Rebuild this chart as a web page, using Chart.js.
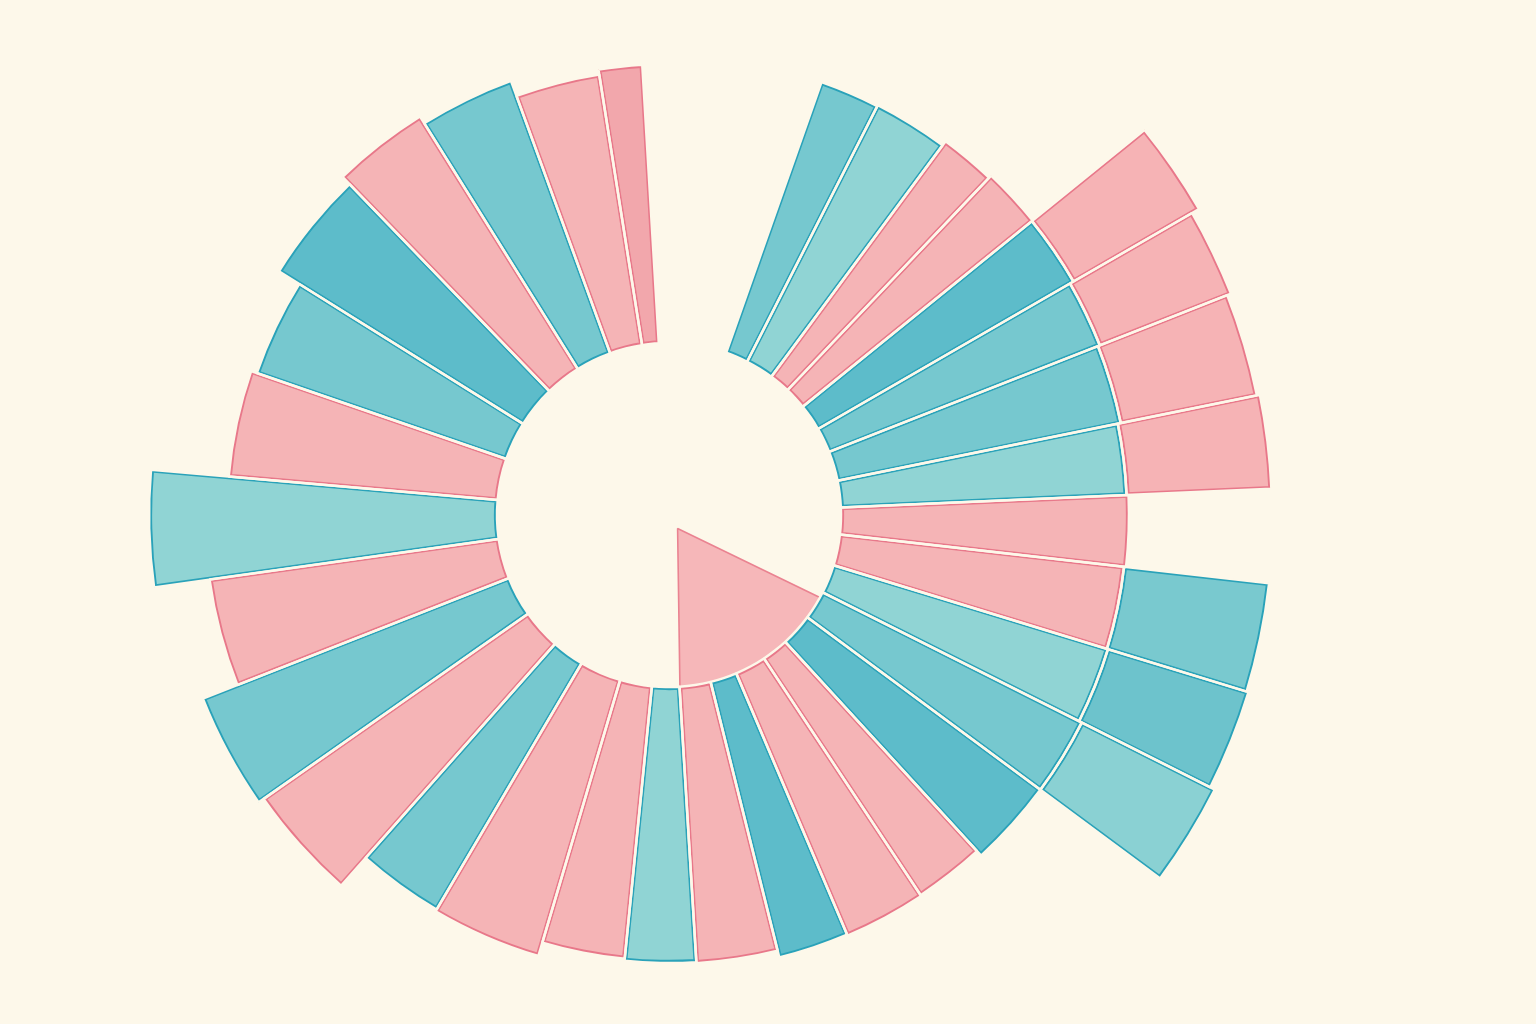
<!DOCTYPE html>
<html>
<head>
<meta charset="utf-8">
<title>Radial bars</title>
<script src="https://cdn.jsdelivr.net/npm/chart.js@4.4.1/dist/chart.umd.min.js"></script>
<style>
  html, body { margin: 0; padding: 0; background: #fdf8ea; }
  canvas { display: block; }
</style>
</head>
<body>
<canvas id="chart" width="1536" height="1024"></canvas>
<script>
// Bars run clockwise from the gap at 12 o'clock
const categories = ['01', '02', '03', '04', '05', '06', '07', '08', '09', '10', '11', '12', '13', '14', '15', '16',
                    '17', '18', '19', '20', '21', '22', '23', '24', '25', '26', '27', '28', '29', '30', '31', '32'];
// angular width of every bar, degrees
const barAngles = [7.6, 9.5, 7, 7.5, 9, 8.5, 10, 9, 9, 10.5, 9.7, 9.8, 11, 9, 10.5, 9,
                   10.5, 9.2, 10.8, 14, 11, 13.5, 13.5, 13.5, 13, 14, 13, 14, 12, 12, 11, 5.6];
// length of each bar beyond the hole
const barValues = [57.4, 57.6, 58.6, 59.2, 59.0, 58.2, 57.8, 57.2, 57.6, 57.2, 57.4, 58.0, 58.0, 56.8, 57.0, 56.8,
                   55.4, 55.2, 54.8, 57.6, 57.2, 64.6, 65.8, 58.4, 69.6, 54.0, 52.8, 57.6, 59.6, 58.0, 54.8, 55.8];
// which series each bar belongs to (A = pink, B = teal)
const barSeries = ['B', 'B', 'A', 'A', 'B', 'B', 'B', 'B', 'A', 'A', 'B', 'B', 'B', 'A', 'A', 'B',
                   'A', 'B', 'A', 'A', 'B', 'A', 'B', 'A', 'B', 'A', 'B', 'B', 'A', 'B', 'A', 'A'];
// stacked outer segments (0 = none)
const outerValues = [0, 0, 0, 0, 29.0, 28.2, 27.8, 29.0, 0, 29.2, 29.4, 29.8, 0, 0, 0, 0,
                     0, 0, 0, 0, 0, 0, 0, 0, 0, 0, 0, 0, 0, 0, 0, 0];
const outerSeries = [null, null, null, null, 'A', 'A', 'A', 'A', null, 'B', 'B', 'B', null, null, null, null,
                     null, null, null, null, null, null, null, null, null, null, null, null, null, null, null, null];
// the small slice in the middle
const coreAngles = [95.6, 65];
const coreValues = [0, 31.4];

const HOLE = 34.4;        // radius of the empty centre, in scale units
const RING_START = 19.4;  // degrees clockwise from 12 o'clock

// Colours
const BG = '#fdf8ea';
const NONE = 'rgba(0,0,0,0)';
const tones = ['m', 'l', 'p', 'p', 'd', 'm', 'm', 'l', 'p', 'p', 'l', 'm', 'd', 'p', 'p', 'd',
               'p', 'l', 'p', 'p', 'm', 'p', 'm', 'p', 'l', 'p', 'm', 'd', 'p', 'm', 'p', 'q'];
const fills = { p: '#f5b4b6', q: '#f2a7ac', l: '#90d4d4', m: '#76c8cf', d: '#5dbcca' };
const edges = { A: '#e8788a', B: '#2aa2b9' };
const outerFills = ['#f6b3b5', '#f6b3b5', '#f6b3b5', '#f6b3b5', '#79c9cf', '#6dc3cc', '#8ad1d3'];

let outerIdx = 0;
const outerColor = outerValues.map(v => v ? outerFills[outerIdx++] : NONE);

const ringData = barValues.map(v => HOLE + v);
const fanData = barValues.map((v, i) => HOLE + v + outerValues[i]);

// Give every ring arc an inner radius so the bars start at the hole
const ringHole = {
    id: 'ringHole',
    afterDatasetsUpdate(chart) {
        const scale = chart.scales.r;
        [0, 2].forEach(d => chart.getDatasetMeta(d).data.forEach(arc => {
            arc.innerRadius = scale.getDistanceFromCenterForValue(HOLE);
        }));
        [1, 3].forEach(d => chart.getDatasetMeta(d).data.forEach((arc, i) => {
            arc.innerRadius = scale.getDistanceFromCenterForValue(HOLE + barValues[i]);
        }));
    }
};

const ctx = document.getElementById('chart').getContext('2d');
new Chart(ctx, {
    type: 'polarArea',
    data: {
        labels: categories,
        datasets: [
            // thin paper-coloured gaps drawn over the bar edges
            {
                data: ringData,
                angle: c => barAngles[c.dataIndex],
                backgroundColor: NONE,
                borderColor: BG,
                borderWidth: 2.5,
                clip: false
            },
            {
                data: fanData,
                angle: c => barAngles[c.dataIndex],
                backgroundColor: NONE,
                borderColor: BG,
                borderWidth: c => outerValues[c.dataIndex] ? 2.5 : 0,
                clip: false
            },
            // the bars
            {
                data: ringData,
                angle: c => barAngles[c.dataIndex],
                backgroundColor: tones.map(t => fills[t]),
                borderColor: barSeries.map(s => edges[s]),
                borderWidth: 2.8,
                borderAlign: 'inner',
                clip: false
            },
            {
                data: fanData,
                angle: c => barAngles[c.dataIndex],
                backgroundColor: outerColor,
                borderColor: outerSeries.map(s => s ? edges[s] : NONE),
                borderWidth: c => outerValues[c.dataIndex] ? 2.8 : 0,
                borderAlign: 'inner',
                clip: false
            },
            {
                data: coreValues,
                angle: c => coreAngles[c.dataIndex],
                backgroundColor: [NONE, '#f6b7b9'],
                borderColor: [NONE, '#ea8391'],
                borderWidth: [0, 1.6],
                offset: [0, 64],
                clip: false
            }
        ]
    },
    options: {
        responsive: false,
        animation: false,
        events: [],
        layout: { padding: { left: 169, right: 367, top: 15, bottom: 9 } },
        scales: {
            r: {
                display: false,
                min: 0,
                max: 100,
                startAngle: RING_START,
                ticks: { display: false },
                grid: { display: false },
                angleLines: { display: false },
                pointLabels: { display: false }
            }
        },
        plugins: {
            legend: { display: false },
            tooltip: { enabled: false }
        }
    },
    plugins: [ringHole]
});
</script>
</body>
</html>
